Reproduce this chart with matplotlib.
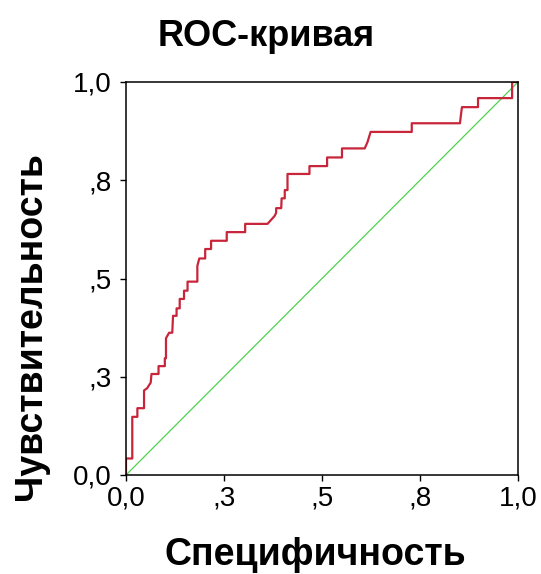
import matplotlib.pyplot as plt

# ROC curve points (1 - specificity, sensitivity)
fpr = [0.000, 0.000, 0.016, 0.016, 0.029, 0.029, 0.046, 0.046, 0.054, 0.063,
       0.065, 0.083, 0.083, 0.099, 0.099, 0.102, 0.102, 0.110, 0.118, 0.120,
       0.129, 0.129, 0.137, 0.137, 0.148, 0.148, 0.157, 0.157, 0.182, 0.182,
       0.187, 0.202, 0.202, 0.217, 0.217, 0.257, 0.257, 0.304, 0.304, 0.361,
       0.379, 0.383, 0.383, 0.396, 0.397, 0.405, 0.405, 0.412, 0.412, 0.468,
       0.468, 0.513, 0.513, 0.551, 0.551, 0.609, 0.616, 0.624, 0.729, 0.729,
       0.852, 0.854, 0.857, 0.898, 0.898, 0.985, 0.985, 1.000]
tpr = [0.000, 0.042, 0.042, 0.148, 0.148, 0.170, 0.170, 0.215, 0.221, 0.235,
       0.257, 0.257, 0.277, 0.277, 0.297, 0.297, 0.348, 0.362, 0.362, 0.405,
       0.405, 0.424, 0.424, 0.448, 0.448, 0.469, 0.469, 0.492, 0.492, 0.532,
       0.551, 0.551, 0.575, 0.575, 0.596, 0.596, 0.618, 0.618, 0.639, 0.639,
       0.659, 0.667, 0.679, 0.679, 0.704, 0.704, 0.725, 0.725, 0.766, 0.766,
       0.786, 0.786, 0.808, 0.808, 0.831, 0.831, 0.847, 0.873, 0.873, 0.895,
       0.895, 0.913, 0.936, 0.936, 0.959, 0.959, 1.000, 1.000]

ref_line = [0.0, 1.0]

ticks = [0.0, 0.25, 0.5, 0.75, 1.0]
tick_labels = ["0,0", ",3", ",5", ",8", "1,0"]

plt.rcParams["font.family"] = ["Liberation Sans", "DejaVu Sans"]

fig = plt.figure(figsize=(5.41, 5.74), dpi=100)
ax = fig.add_axes([126 / 541, 99 / 574, 392 / 541, 393 / 574])

ax.plot(ref_line, ref_line, color="#4fd14f", lw=0.9)
ax.plot(fpr, tpr, color="#c8253a", lw=1.6)

ax.set_xlim(0, 1)
ax.set_ylim(0, 1)
ax.set_xticks(ticks)
ax.set_xticklabels(tick_labels)
ax.set_yticks(ticks)
ax.set_yticklabels(tick_labels)
ax.tick_params(direction="out", length=4, width=1, labelsize=20, colors="black")
ax.tick_params(axis="x", pad=3.5)
ax.tick_params(axis="y", pad=6)
for s in ax.spines.values():
    s.set_linewidth(1.1)
    s.set_color("black")

fig.text(266 / 541, 1 - 46 / 574, "ROC-кривая", fontsize=26, fontweight="bold",
         ha="center", va="baseline")
fig.text(315 / 541, 1 - 565 / 574, "Специфичность", fontsize=27, fontweight="bold",
         ha="center", va="baseline")
fig.text(31 / 541, 1 - 326 / 574, "Чувствительность", fontsize=27, fontweight="bold",
         rotation=90, ha="center", va="center")

fig.savefig("out.png", dpi=100)
